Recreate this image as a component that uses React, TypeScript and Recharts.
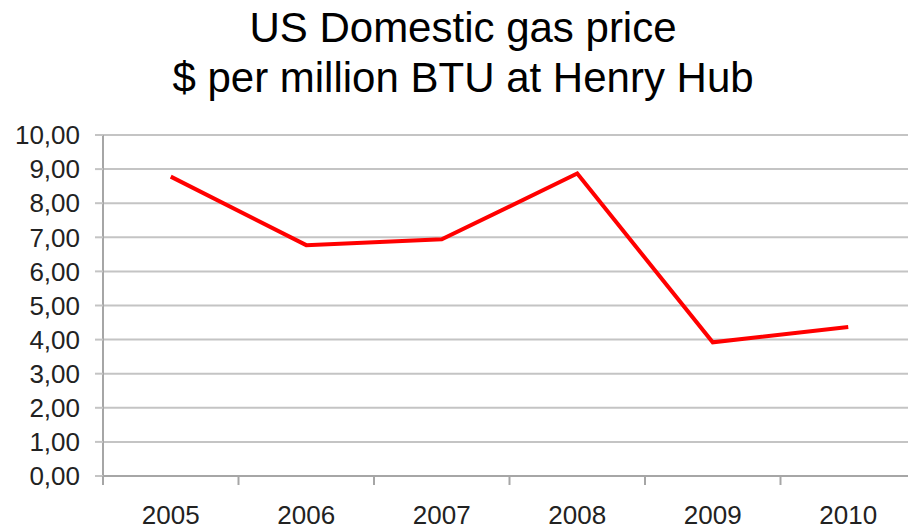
import { CartesianGrid, Line, LineChart, XAxis, YAxis } from "recharts";

const years = ["2005", "2006", "2007", "2008", "2009", "2010"];
const prices = [8.78, 6.77, 6.94, 8.87, 3.92, 4.37];
const yTicks = [0, 1, 2, 3, 4, 5, 6, 7, 8, 9, 10];
const titleLines = ["US Domestic gas price", "$ per million BTU at Henry Hub"];

const data = years.map((year, i) => ({ year, price: prices[i] }));

const FONT = '"Liberation Sans", Arial, sans-serif';
const AXIS = "#a6a6a6";
const GRID = "#c4c4c4";
const TICK_SIZE = 9;
const TICK_MARGIN = 21;

function comma(v: number) {
  return v.toFixed(2).replace(".", ",");
}

// category labels sit mid-band, tick marks sit on the band edges
function YearTick(props: any) {
  const { x, y, payload } = props;
  const half = payload?.offset ?? 0;
  const axisY = y - TICK_SIZE - TICK_MARGIN;
  return (
    <g>
      <line
        x1={x - half}
        x2={x - half}
        y1={axisY}
        y2={axisY + TICK_SIZE}
        stroke={AXIS}
        strokeWidth={2}
      />
      <text
        x={x}
        y={y}
        dy="0.71em"
        textAnchor="middle"
        fontSize={26}
        fontFamily={FONT}
        fill="#222"
      >
        {payload.value}
      </text>
    </g>
  );
}

export default function App() {
  return (
    <div
      style={{
        position: "absolute",
        left: 0,
        top: 0,
        width: 908,
        height: 529,
        overflow: "hidden",
        background: "#fff",
      }}
    >
      <div
        style={{
          position: "absolute",
          left: 0,
          top: 2.5,
          width: 926,
          textAlign: "center",
          fontFamily: FONT,
          fontSize: 42,
          lineHeight: "50px",
          color: "#000",
        }}
      >
        {titleLines.map((t) => (
          <div key={t}>{t}</div>
        ))}
      </div>

      <LineChart
        width={920}
        height={529}
        data={data}
        margin={{ top: 135, right: 4, bottom: 0, left: 0 }}
      >
        <CartesianGrid vertical={false} stroke={GRID} strokeWidth={2} />
        <XAxis
          dataKey="year"
          scale="band"
          height={53}
          axisLine={{ stroke: AXIS, strokeWidth: 2 }}
          tickLine={false}
          tickSize={TICK_SIZE}
          tickMargin={TICK_MARGIN}
          tick={<YearTick />}
          interval={0}
        />
        <YAxis
          width={103}
          domain={[0, 10]}
          ticks={yTicks}
          interval={0}
          tickFormatter={comma}
          axisLine={{ stroke: AXIS, strokeWidth: 2 }}
          tickLine={{ stroke: GRID, strokeWidth: 2 }}
          tickSize={8}
          tickMargin={15}
          tick={{ fontSize: 26, fontFamily: FONT, fill: "#222" }}
        />
        <Line
          type="linear"
          dataKey="price"
          stroke="#ff0000"
          strokeWidth={4}
          dot={false}
          activeDot={false}
          isAnimationActive={false}
        />
      </LineChart>
    </div>
  );
}
